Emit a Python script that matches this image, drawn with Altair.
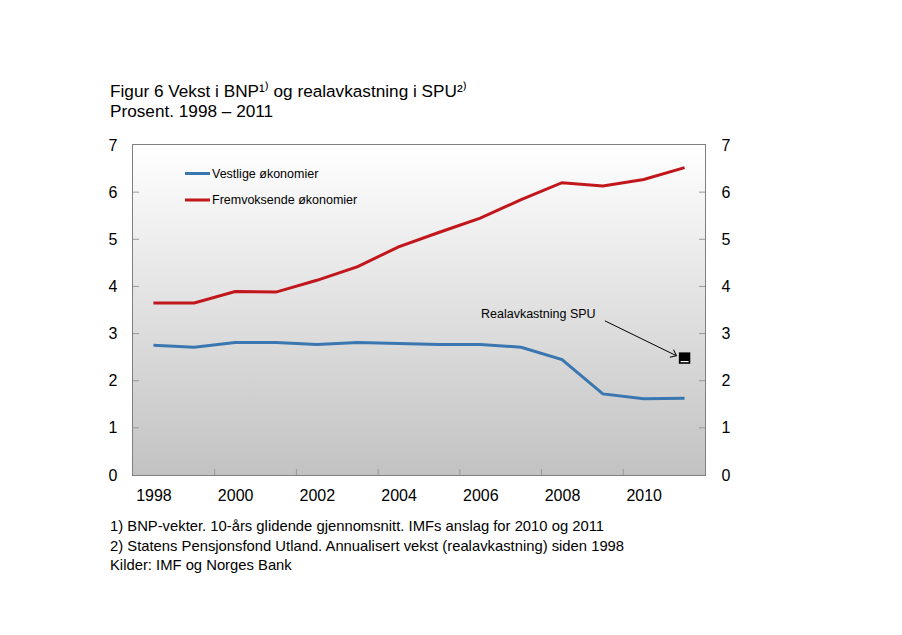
import altair as alt
import pandas as pd

years = list(range(1998, 2012))
vestlige = [2.75, 2.71, 2.81, 2.81, 2.77, 2.81, 2.79, 2.77, 2.77, 2.71, 2.45, 1.72, 1.62, 1.63]
fremvoksende = [3.65, 3.65, 3.89, 3.88, 4.13, 4.42, 4.84, 5.15, 5.45, 5.84, 6.20, 6.13, 6.27, 6.52]
series_names = ["Vestlige økonomier", "Fremvoksende økonomier"]
series_colors = ["#3A77B0", "#C0161C"]
spu_year = [2011]
spu_value = [2.48]
x_label_years = [1998, 2000, 2002, 2004, 2006, 2008, 2010]
x_tick_years = [1999.5, 2001.5, 2003.5, 2005.5, 2007.5, 2009.5]
y_tick_values = [1, 2, 3, 4, 5, 6]
title_lines = ["Figur 6 Vekst i BNP¹⁾ og realavkastning i SPU²⁾", "Prosent. 1998 – 2011"]
footnotes = [
    "1) BNP-vekter. 10-års glidende gjennomsnitt. IMFs anslag for 2010 og 2011",
    "2) Statens Pensjonsfond Utland. Annualisert vekst (realavkastning) siden 1998",
    "Kilder: IMF og Norges Bank",
]
annotation_text = "Realavkastning SPU"
arrow_start = (2009.05, 3.27)
arrow_end = (2010.8, 2.53)

W, H = 572, 330
FONT = "Liberation Sans"

df = pd.DataFrame({
    "year": years * 2,
    "value": vestlige + fremvoksende,
    "series": [series_names[0]] * len(years) + [series_names[1]] * len(years),
})

xscale = alt.Scale(domain=[1997.5, 2011.5], nice=False, zero=False)
yscale = alt.Scale(domain=[0, 7], nice=False)
x_axis = alt.Axis(values=x_label_years, format="d", tickSize=0, grid=False, domain=False,
                  labelFontSize=16, labelPadding=12, labelColor="#000", title=None,
                  labelFont=FONT)
left_axis = alt.Axis(values=list(range(0, 8)), tickSize=0, grid=False, domain=False,
                     labelFontSize=16, labelPadding=16, labelColor="#000", title=None,
                     labelFont=FONT)
right_axis = alt.Axis(orient="right", values=list(range(0, 8)), tickSize=0, grid=False,
                      domain=False, labelFontSize=16, labelPadding=16, labelColor="#000",
                      title=None, labelFont=FONT)

dummy = alt.Data(values=[{"a": 1}])

bg = alt.Chart(dummy).mark_rect(
    fill=alt.Gradient(gradient="linear",
                      stops=[alt.GradientStop(color="#ffffff", offset=0),
                             alt.GradientStop(color="#c2c2c2", offset=1)],
                      x1=0, x2=0, y1=0, y2=1)
).encode(x=alt.value(0), x2=alt.value(W), y=alt.value(0), y2=alt.value(H))

lines = alt.Chart(df).mark_line(strokeWidth=3).encode(
    x=alt.X("year:Q", scale=xscale, axis=x_axis),
    y=alt.Y("value:Q", scale=yscale, axis=left_axis),
    color=alt.Color("series:N", scale=alt.Scale(domain=series_names, range=series_colors), legend=None),
)

# inward tick marks
ytick_df = pd.DataFrame({"v": y_tick_values})
ytl = alt.Chart(ytick_df).mark_rule(color="#999999", strokeWidth=1).encode(
    y=alt.Y("v:Q", scale=yscale, axis=left_axis), x=alt.value(0), x2=alt.value(6))
ytr = alt.Chart(ytick_df).mark_rule(color="#999999", strokeWidth=1).encode(
    y=alt.Y("v:Q", scale=yscale, axis=left_axis), x=alt.value(W - 6), x2=alt.value(W))
xt = alt.Chart(pd.DataFrame({"t": x_tick_years})).mark_rule(color="#999999", strokeWidth=1).encode(
    x=alt.X("t:Q", scale=xscale, axis=x_axis), y=alt.value(H - 6), y2=alt.value(H))

spu_df = pd.DataFrame({"year": spu_year, "value": spu_value})
spu = alt.Chart(spu_df).mark_square(
    size=130, color="#000000", opacity=1).encode(
    x=alt.X("year:Q", scale=xscale, axis=x_axis),
    y=alt.Y("value:Q", scale=yscale, axis=left_axis))
spu_line = alt.Chart(spu_df).mark_tick(
    orient="horizontal", size=8, thickness=1.2, color="#ffffff", opacity=1, yOffset=3.5).encode(
    x=alt.X("year:Q", scale=xscale, axis=x_axis),
    y=alt.Y("value:Q", scale=yscale, axis=left_axis))

arrow_df = pd.DataFrame({"x": [arrow_start[0]], "y": [arrow_start[1]],
                         "x2": [arrow_end[0]], "y2": [arrow_end[1]]})
arrow_line = alt.Chart(arrow_df).mark_rule(color="#000000", strokeWidth=1).encode(
    x=alt.X("x:Q", scale=xscale, axis=x_axis), x2="x2:Q",
    y=alt.Y("y:Q", scale=yscale, axis=left_axis), y2="y2:Q")
arrow_head = alt.Chart(arrow_df).mark_point(
    shape="M-1,-0.8L0,0L-1,0.8", size=110, angle=26, color="#000000",
    strokeWidth=1, filled=False, opacity=1).encode(
    x=alt.X("x2:Q", scale=xscale, axis=x_axis),
    y=alt.Y("y2:Q", scale=yscale, axis=left_axis))

annot = alt.Chart(dummy).mark_text(text=annotation_text, font=FONT, fontSize=12.5,
                                   align="left", baseline="alphabetic", color="#000").encode(
    x=alt.value(348), y=alt.value(173))

legend_df = pd.DataFrame({"name": series_names, "ypos": [28.5, 55]})
leg_lines = alt.Chart(legend_df).mark_rule(strokeWidth=3).encode(
    x=alt.value(52), x2=alt.value(77), y=alt.Y("ypos:Q", scale=None),
    color=alt.Color("name:N", scale=alt.Scale(domain=series_names, range=series_colors), legend=None))
leg_text = alt.Chart(legend_df).mark_text(font=FONT, fontSize=12.5, align="left",
                                          baseline="middle", color="#000").encode(
    x=alt.value(79), y=alt.Y("ypos:Q", scale=None), text="name:N")

title_df = pd.DataFrame({"t": title_lines, "ypos": [-48, -28]})
title_marks = alt.Chart(title_df).mark_text(font=FONT, fontSize=17.2, align="left",
                                            baseline="alphabetic", color="#000").encode(
    x=alt.value(-23), y=alt.Y("ypos:Q", scale=None), text="t:N")

foot_df = pd.DataFrame({"t": footnotes, "ypos": [386, 405.5, 425]})
foot_marks = alt.Chart(foot_df).mark_text(font=FONT, fontSize=14.8, align="left",
                                          baseline="alphabetic", color="#000").encode(
    x=alt.value(-23), y=alt.Y("ypos:Q", scale=None), text="t:N")

main = alt.layer(bg, ytl, ytr, xt, lines, spu, spu_line, arrow_line, arrow_head, annot,
                 leg_lines, leg_text, title_marks, foot_marks)

right = alt.Chart(df).mark_point(opacity=0).encode(
    x=alt.X("year:Q", scale=xscale, axis=x_axis),
    y=alt.Y("value:Q", scale=yscale, axis=right_axis))

chart = alt.layer(main, right).resolve_scale(y="independent").properties(
    width=W, height=H,
    autosize=alt.AutoSizeParams(type="none"),
    padding={"left": 133, "top": 145, "right": 197, "bottom": 160},
    background="#ffffff",
).configure_view(stroke="#7f7f7f", strokeWidth=2)

chart.save("out.html", embed_options={"renderer": "svg", "actions": False})
